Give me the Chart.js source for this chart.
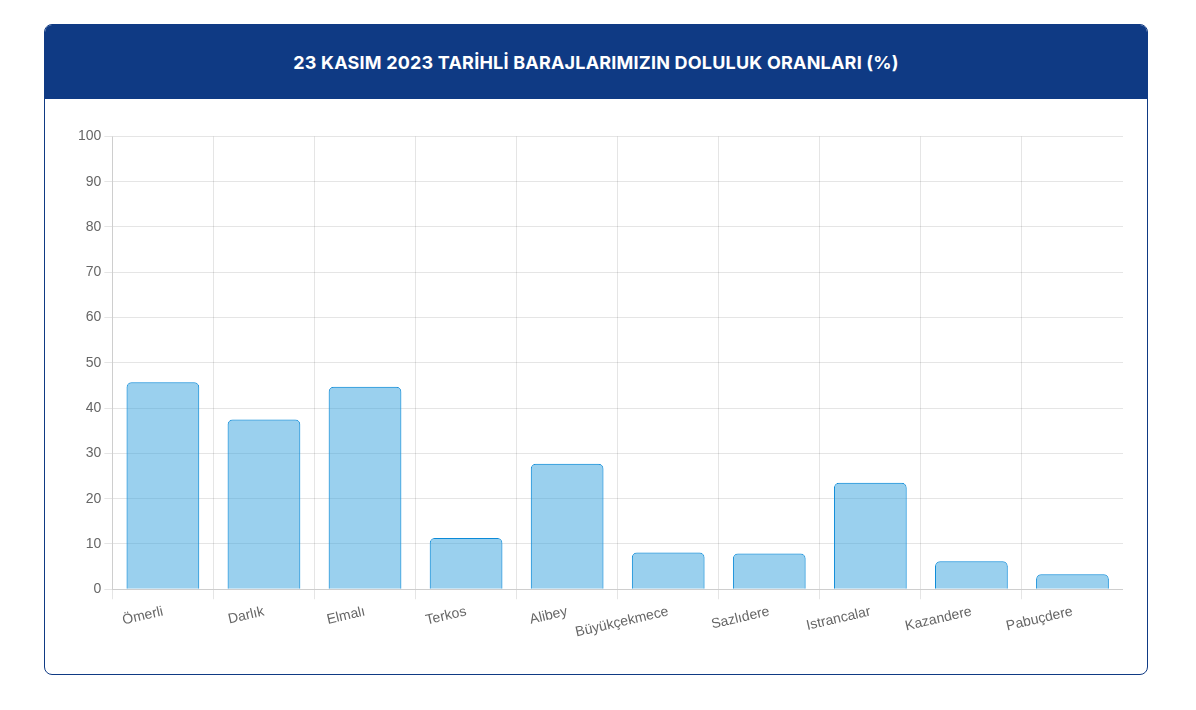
<!DOCTYPE html>
<html>
  <head>
    <title>Baraj Doluluk Oranları</title>
    <script src="https://cdn.jsdelivr.net/npm/chart.js@4.4.0/dist/chart.umd.min.js"></script>
    <style>
      body { margin: 0; background: #fff; font-family: 'Liberation Sans', Arial, sans-serif; }
      #card {
        position: absolute; left: 44px; top: 24px; width: 1102px; height: 649px;
        border: 1px solid #0f3a84; border-radius: 8px; overflow: hidden; background: #fff;
      }
      #header {
        height: 74px; background: #0f3a84; color: #fff;
        font-family: Inter, 'Open Sans', sans-serif; font-weight: 700; font-size: 18px; letter-spacing: 0.2px;
        display: flex; align-items: center; justify-content: center;
      }
      #container { position: absolute; left: 30px; top: 100px; width: 1048px; height: 520px; }
    </style>
  </head>

  <body>
    <div id="card">
      <div id="header">23 KASIM 2023 TARİHLİ BARAJLARIMIZIN DOLULUK ORANLARI (%)</div>
      <div id="container">
        <canvas id="canvas"></canvas>
      </div>
    </div>
    <script>
      const dams = ['Ömerli', 'Darlık', 'Elmalı', 'Terkos', 'Alibey', 'Büyükçekmece', 'Sazlıdere', 'Istrancalar', 'Kazandere', 'Pabuçdere'];
      const fillRates = [45.7, 37.5, 44.7, 11.3, 27.7, 8.1, 7.9, 23.5, 6.2, 3.3];
      const yTicks = [0, 10, 20, 30, 40, 50, 60, 70, 80, 90, 100];

      Chart.defaults.font.family = "'Liberation Sans', Arial, sans-serif";

      window.onload = () => {
        const ctx = document.getElementById('canvas').getContext('2d');
        new Chart(ctx, {
          type: 'bar',
          data: {
            labels: dams,
            datasets: [
              {
                label: 'Doluluk',
                data: fillRates,
                backgroundColor: 'rgba(54, 162, 221, 0.5)',
                borderColor: '#0b8ad8',
                borderWidth: 1,
                borderRadius: 5,
              },
            ],
          },
          options: {
            responsive: true,
            maintainAspectRatio: false,
            animation: false,
            plugins: {
              legend: { display: false },
              tooltip: { enabled: false },
            },
            scales: {
              x: {
                grid: { color: 'rgba(0,0,0,0.1)', tickLength: 10 },
                ticks: { color: '#666', font: { size: 14 }, minRotation: 13, maxRotation: 13, padding: 4 },
              },
              y: {
                min: 0,
                max: 100,
                afterBuildTicks: (scale) => {
                  scale.ticks = yTicks.map((v) => ({ value: v }));
                },
                grid: { color: 'rgba(0,0,0,0.1)', tickLength: 8 },
                ticks: { color: '#666', font: { size: 14 } },
              },
            },
          },
        });
      };
    </script>
  </body>
</html>
